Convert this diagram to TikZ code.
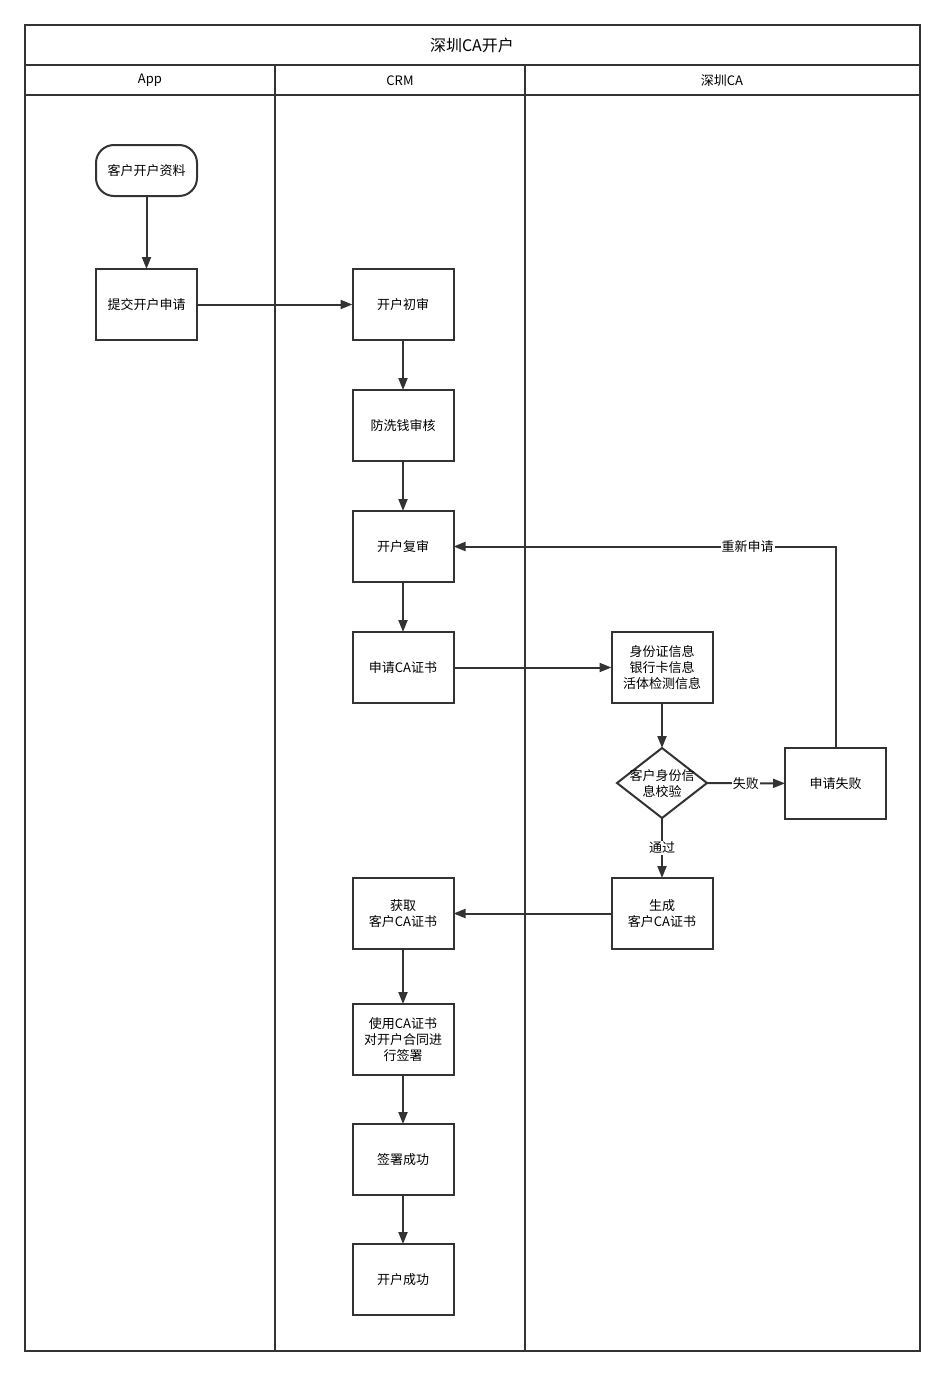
\documentclass[tikz,border=0pt]{standalone}
\usepackage{fontspec}
\setmainfont{Noto Sans CJK SC}
\usetikzlibrary{positioning, shapes.geometric, arrows.meta}

\begin{document}
\begin{tikzpicture}[
	  x=1pt, y=-1pt,
	  font=\fontsize{13}{16}\selectfont,
	  node distance=50pt and 80pt,
	  line/.style={draw=black!80, line width=2pt},
	  box/.style={
	    line,
	    align=center,
	    minimum width=101pt,
	    minimum height=71pt,
	    inner sep=2pt,
	    outer sep=0pt
	  },
	  startbox/.style={box, rounded corners=18pt, minimum height=51pt},
	  decision/.style={line, diamond, minimum width=90pt, minimum height=70pt, inner sep=0pt, outer sep=0pt},
	  annot/.style={fill=white, inner sep=1pt},
	  arrow/.style={line, -{Triangle[length=12pt,width=9pt]}}
	]
	\useasboundingbox (0,0) rectangle (945,1376);

	% --- Lanes ---
	\draw[line] (25,25) rectangle (920,1351);
	\draw[line] (25,65) -- (920,65);
	\draw[line] (25,95) -- (920,95);
	\draw[line] (275,65) -- (275,1351);
	\draw[line] (525,65) -- (525,1351);
	\node[font=\fontsize{16}{18}\selectfont] (title) at (472,45) {深圳CA开户};
	\node (laneapp) at (150,80.5) {App};
	\node (lanecrm) at (400,80.5) {CRM};
	\node (laneca) at (722,80.5) {深圳CA};

	% --- App ---
	\node[startbox] (data) at (146.5,170.5) {客户开户资料};
	\node[box] (submit) at (146.5,304.5) {提交开户申请};

	% --- CRM ---
	\node[box] (firstcheck) at (403,304.5) {开户初审};
	\node[box, below=of firstcheck] (aml) {防洗钱审核};
	\node[box, below=of aml] (recheck) {开户复审};
	\node[box, below=of recheck] (apply) {申请CA证书};
	\node[box] (fetch) at (403,913.5) {获取\\客户CA证书};
	\node[box, below=55pt of fetch] (sign) {使用CA证书\\对开户合同进\\行签署};
	\node[box, below=49pt of sign] (signok) {签署成功};
	\node[box, below=49pt of signok] (openok) {开户成功};

	% --- 深圳CA ---
	\node[box] (info) at (662,667.5) {身份证信息\\银行卡信息\\活体检测信息};
	\node[decision, label={[align=center]center:客户身份信\\息校验}] (verify) at (662,783) {};
	\node[box] (fail) at (835.5,783.5) {申请失败};
	\node[box] (issue) at (662,913.5) {生成\\客户CA证书};

	% --- Flows ---
	\draw[arrow] (data) -- (submit);
	\draw[arrow] (submit) -- (firstcheck);
	\draw[arrow] (firstcheck) -- (aml);
	\draw[arrow] (aml) -- (recheck);
	\draw[arrow] (recheck) -- (apply);
	\draw[arrow] (apply) -- (info);
	\draw[arrow] (info) -- (verify);
	\draw[arrow] (verify) -- node[annot]{失败} (fail);
	\draw[arrow] (verify) -- node[annot]{通过} (issue);
	\draw[arrow] (fail.north) |- node[annot, pos=0.615]{重新申请} (recheck.east);
	\draw[arrow] (issue) -- (fetch);
	\draw[arrow] (fetch) -- (sign);
	\draw[arrow] (sign) -- (signok);
	\draw[arrow] (signok) -- (openok);

\end{tikzpicture}
\end{document}
